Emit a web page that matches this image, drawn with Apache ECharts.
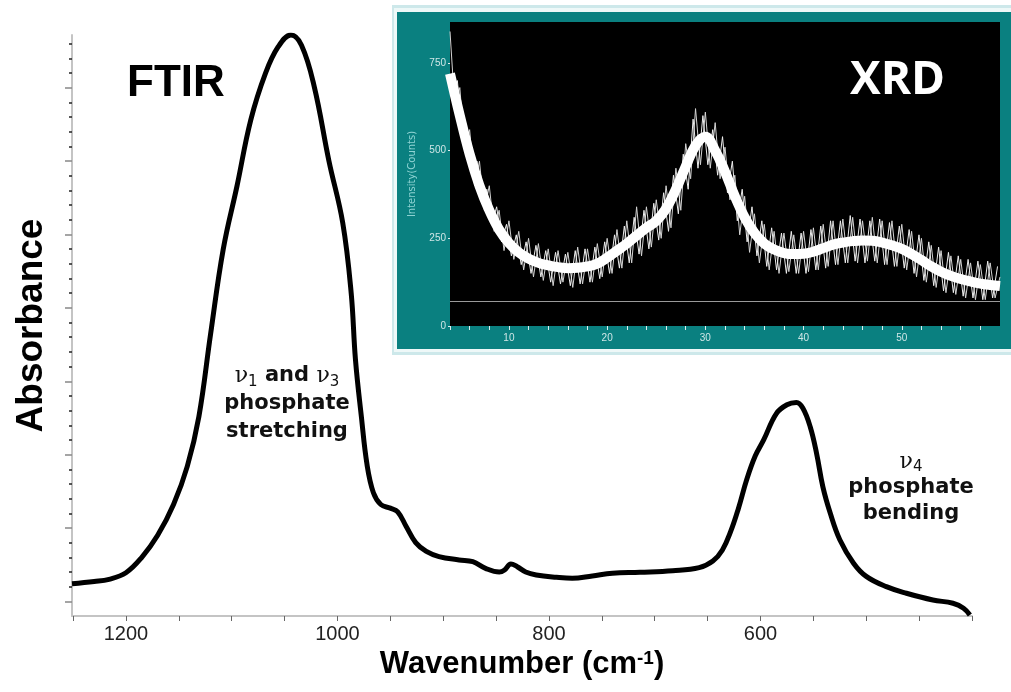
<!DOCTYPE html>
<html>
<head>
<meta charset="utf-8">
<script src="https://cdn.jsdelivr.net/npm/echarts@6/dist/echarts.min.js"></script>
<style>
  html, body { margin: 0; padding: 0; background: #fff; }
  #chart { width: 1011px; height: 692px; }
</style>
</head>
<body>
<div id="chart"></div>
<script>
// FTIR spectrum (wavenumber cm-1, absorbance in arbitrary units)
var ftirWavenumber = [1251, 1230, 1216, 1200, 1185, 1170, 1155, 1142, 1131, 1120, 1108, 1095, 1082, 1068, 1056, 1044,
  1034, 1022, 1008, 995, 987, 983, 977.4, 972, 966, 959, 950, 943, 935, 926, 916, 904, 885, 872, 860, 847, 842, 836,
  830, 822, 812, 793, 778, 759, 740, 714, 683, 658, 645, 636, 628, 621, 613, 605, 597, 585, 575, 566, 560, 553, 547,
  541, 534, 525, 512, 500, 481, 462, 437, 418, 408, 402];
var ftirAbsorbance = [2.2, 2.35, 2.5, 2.95, 4.0, 5.5, 7.6, 10.2, 13.6, 19.2, 25.0, 29.3, 33.8, 37.0, 38.8, 39.6,
  38.9, 36.1, 31.0, 26.8, 22.0, 17.5, 13.6, 10.3, 8.4, 7.6, 7.35, 7.1, 6.1, 5.0, 4.4, 4.05, 3.82, 3.7, 3.25, 3.0, 3.14, 3.55,
  3.36, 3.0, 2.8, 2.64, 2.57, 2.73, 2.91, 2.98, 3.09, 3.3, 3.75, 4.5, 5.8, 7.3, 9.3, 10.9, 12.0, 13.8, 14.4, 14.55, 14.17, 12.9, 11.1,
  8.8, 7.0, 5.2, 3.6, 2.7, 2.0, 1.55, 1.09, 0.87, 0.53, 0.07];

var ftirTicks = [1250, 1200, 1150, 1100, 1050, 1000, 950, 900, 850, 800, 750, 700, 650, 600, 550, 500, 450, 400];
var ftirLabels = [1200, 1000, 800, 600];
var absMajorTicks = [1, 6, 11, 16, 21, 26, 31, 36];
var absMinorTicks = [2, 3, 4, 5, 7, 8, 9, 10, 12, 13, 14, 15, 17, 18, 19, 20, 22, 23, 24, 25, 27, 28, 29, 30, 32, 33, 34, 35, 37, 38, 39];

// XRD inset: centre of the noisy band, one value per degree 2-theta
var xrdAngle = [4, 5, 6, 7, 8, 9, 10, 11, 12, 13, 14, 15, 16, 17, 18, 19, 20, 21, 22, 23, 24, 25, 26, 27, 28, 29, 30, 31,
  32, 33, 34, 35, 36, 37, 38, 39, 40, 41, 42, 43, 44, 45, 46, 47, 48, 49, 50, 51, 52, 53, 54, 55, 56, 57, 58, 59, 60];
var xrdCounts = [720, 600, 490, 400, 330, 275, 237, 210, 192, 180, 173, 168, 165, 166, 170, 178, 195, 215, 235, 258, 280, 300, 335, 390, 455, 515, 540, 500,
  440, 370, 310, 265, 235, 218, 208, 205, 206, 212, 222, 232, 238, 242, 244, 243, 238, 230, 220, 205, 188, 170, 155, 143, 134, 127, 121, 117, 114];
// spike tips of the noise, every half degree
var xrdSpikeAngle = [4, 4.5, 5, 5.5, 6, 6.5, 7, 7.5, 8, 8.5, 9, 9.5, 10, 10.5, 11, 11.5, 12, 12.5, 13, 13.5, 14, 14.5, 15, 15.5,
  16, 16.5, 17, 17.5, 18, 18.5, 19, 19.5, 20, 20.5, 21, 21.5, 22, 22.5, 23, 23.5, 24, 24.5, 25, 25.5, 26, 26.5, 27, 27.5,
  28, 28.5, 29, 29.5, 30, 30.5, 31, 31.5, 32, 32.5, 33, 33.5, 34, 34.5, 35, 35.5, 36, 36.5, 37, 37.5, 38, 38.5, 39, 39.5,
  40, 40.5, 41, 41.5, 42, 42.5, 43, 43.5, 44, 44.5, 45, 45.5, 46, 46.5, 47, 47.5, 48, 48.5, 49, 49.5, 50, 50.5, 51, 51.5,
  52, 52.5, 53, 53.5, 54, 54.5, 55, 55.5, 56, 56.5, 57, 57.5, 58, 58.5, 59, 59.5, 60];
var xrdSpikes = [840, 620, 680, 500, 560, 400, 470, 330, 400, 270, 330, 215, 300, 190, 270, 160, 250, 140, 235, 130, 220, 115, 215, 125,
  210, 110, 225, 120, 220, 125, 235, 140, 250, 150, 275, 165, 300, 180, 340, 200, 340, 225, 360, 250, 400, 280, 450, 330,
  520, 420, 620, 460, 610, 450, 580, 420, 510, 360, 430, 260, 370, 210, 320, 180, 290, 160, 270, 150, 265, 155, 260, 150,
  270, 155, 280, 160, 290, 170, 300, 175, 305, 180, 310, 180, 300, 185, 310, 180, 300, 175, 300, 170, 290, 160, 270, 140,
  250, 125, 230, 110, 215, 95, 200, 90, 190, 80, 180, 75, 175, 75, 180, 80, 140];
// second set of spike tips, on the quarter degrees
var xrdSpikeAngle2 = [4.25, 4.75, 5.25, 5.75, 6.25, 6.75, 7.25, 7.75, 8.25, 8.75, 9.25, 9.75, 10.25, 10.75, 11.25, 11.75,
  12.25, 12.75, 13.25, 13.75, 14.25, 14.75, 15.25, 15.75, 16.25, 16.75, 17.25, 17.75, 18.25, 18.75, 19.25, 19.75,
  20.25, 20.75, 21.25, 21.75, 22.25, 22.75, 23.25, 23.75, 24.25, 24.75, 25.25, 25.75, 26.25, 26.75, 27.25, 27.75,
  28.25, 28.75, 29.25, 29.75, 30.25, 30.75, 31.25, 31.75, 32.25, 32.75, 33.25, 33.75, 34.25, 34.75, 35.25, 35.75,
  36.25, 36.75, 37.25, 37.75, 38.25, 38.75, 39.25, 39.75, 40.25, 40.75, 41.25, 41.75, 42.25, 42.75, 43.25, 43.75,
  44.25, 44.75, 45.25, 45.75, 46.25, 46.75, 47.25, 47.75, 48.25, 48.75, 49.25, 49.75, 50.25, 50.75, 51.25, 51.75,
  52.25, 52.75, 53.25, 53.75, 54.25, 54.75, 55.25, 55.75, 56.25, 56.75, 57.25, 57.75, 58.25, 58.75, 59.25, 59.75];
var xrdSpikes2 = [640, 700, 540, 560, 430, 470, 360, 390, 290, 340, 240, 290, 200, 260, 175, 240,
  150, 230, 140, 215, 125, 210, 120, 205, 115, 215, 120, 220, 125, 225, 135, 240,
  150, 260, 165, 285, 180, 310, 205, 330, 220, 350, 245, 380, 270, 430, 320, 490,
  390, 590, 450, 600, 460, 560, 430, 540, 380, 470, 300, 390, 240, 340, 200, 300,
  170, 280, 160, 265, 150, 270, 150, 265, 150, 275, 160, 285, 165, 300, 175, 300,
  180, 315, 185, 305, 180, 300, 185, 305, 175, 295, 170, 285, 165, 275, 150, 260,
  130, 240, 115, 225, 100, 210, 95, 200, 85, 190, 80, 185, 75, 185, 80, 170];
var xrdBaseline = 72;
var xrdTicks = [4, 6, 8, 10, 12, 14, 16, 18, 20, 22, 24, 26, 28, 30, 32, 34, 36, 38, 40, 42, 44, 46, 48, 50, 52, 54, 56, 58];
var xrdXLabels = [10, 20, 30, 40, 50];
var xrdYLabels = [0, 250, 500, 750];

var myChart = echarts.init(document.getElementById('chart'));

function pairs(xs, ys) {
  return xs.map(function (x, i) { return [x, ys[i]]; });
}

var boldFont = '"Liberation Sans", Arial, sans-serif';
var labelFont = '"DejaVu Sans", Verdana, sans-serif';

var option = {
  backgroundColor: '#fff',
  animation: false,
  graphic: [
    // inset frame
    { type: 'rect', z: -20, shape: { x: 392, y: 5, width: 630, height: 350 }, style: { fill: '#cde8ea' } },
    { type: 'rect', z: -19, shape: { x: 394, y: 8, width: 630, height: 344 }, style: { fill: '#eef8f8' } },
    { type: 'rect', z: -18, shape: { x: 397, y: 12, width: 630, height: 337 }, style: { fill: '#0a8080' } },
    { type: 'text', z: 50, left: 127, top: 62, style: { text: 'FTIR', font: 'bold 44px ' + boldFont, fill: '#000' } },
    { type: 'text', z: 50, left: 850, top: 58, style: { text: 'XRD', font: 'bold 46px "Open Sans", sans-serif', fill: '#fff' } },
    {
      type: 'text', z: 50, x: 287, y: 404,
      style: {
        text: '{nu|ν}{sub|1} and {nu|ν}{sub|3}\nphosphate\nstretching',
        align: 'center', verticalAlign: 'middle',
        font: 'bold 21px ' + labelFont, fill: '#111', lineHeight: 28,
        rich: {
          nu: { font: '22px "DejaVu Serif", serif', fill: '#111', lineHeight: 28 },
          sub: { font: '15px "DejaVu Sans", sans-serif', fill: '#111', verticalAlign: 'bottom', lineHeight: 22 }
        }
      }
    },
    {
      type: 'text', z: 50, x: 911, y: 488,
      style: {
        text: '{nu|ν}{sub|4}\nphosphate\nbending',
        align: 'center', verticalAlign: 'middle',
        font: 'bold 21px ' + labelFont, fill: '#111', lineHeight: 26,
        rich: {
          nu: { font: '22px "DejaVu Serif", serif', fill: '#111', lineHeight: 26 },
          sub: { font: '15px "DejaVu Sans", sans-serif', fill: '#111', verticalAlign: 'bottom', lineHeight: 20 }
        }
      }
    }
  ],
  grid: [
    { left: 72, right: 39, top: 35, bottom: 76 },
    { left: 450, top: 22, width: 550, height: 304, show: true, backgroundColor: '#000', borderWidth: 0 }
  ],
  xAxis: [
    {
      type: 'value', gridIndex: 0, inverse: true, min: 400, max: 1251,
      name: 'Wavenumber (cm{sup|-1})', nameLocation: 'middle', nameGap: 30,
      nameTextStyle: {
        fontFamily: boldFont, fontWeight: 'bold', fontSize: 31, color: '#000', verticalAlign: 'top',
        rich: { sup: { fontFamily: boldFont, fontWeight: 'bold', fontSize: 19, color: '#000', verticalAlign: 'top', padding: [0, 0, 12, 0] } }
      },
      axisLine: { lineStyle: { color: '#c4c4c4', width: 2 } },
      axisTick: { customValues: ftirTicks, length: 5, lineStyle: { color: '#666', width: 1 } },
      axisLabel: {
        customValues: ftirLabels, fontFamily: '"Liberation Sans", sans-serif', fontSize: 20, color: '#222', margin: 8,
        formatter: function (v) { return String(v); }
      },
      splitLine: { show: false }
    },
    {
      type: 'value', gridIndex: 1, min: 4, max: 60,
      axisLine: { show: false },
      axisTick: { customValues: xrdTicks, length: 4, lineStyle: { color: '#dfeeee', width: 1 } },
      axisLabel: { customValues: xrdXLabels, fontFamily: '"Liberation Sans", sans-serif', fontSize: 10, color: '#cfe6e6', margin: 7 },
      splitLine: { show: false }
    }
  ],
  yAxis: [
    {
      type: 'value', gridIndex: 0, position: 'left', min: 0, max: 39.6,
      name: 'Absorbance', nameLocation: 'middle', nameGap: 22,
      nameTextStyle: { fontFamily: boldFont, fontWeight: 'bold', fontSize: 37, color: '#000' },
      axisLine: { show: true, lineStyle: { color: '#c4c4c4', width: 2 } },
      axisTick: { customValues: absMajorTicks, length: 7, lineStyle: { color: '#888', width: 1.5 } },
      axisLabel: { show: false },
      splitLine: { show: false }
    },
    {
      type: 'value', gridIndex: 0, position: 'left', offset: 0, min: 0, max: 39.6,
      axisLine: { show: false },
      axisTick: { customValues: absMinorTicks, length: 3, lineStyle: { color: '#222', width: 1.5 } },
      axisLabel: { show: false },
      splitLine: { show: false }
    },
    {
      type: 'value', gridIndex: 1, min: 0, max: 867,
      name: 'Intensity(Counts)', nameLocation: 'middle', nameGap: 33,
      nameTextStyle: { fontFamily: '"DejaVu Sans", sans-serif', fontSize: 10, color: '#8fd3d3' },
      axisLine: { show: false },
      axisTick: { customValues: xrdYLabels, length: 2, lineStyle: { color: '#dfeeee' } },
      axisLabel: { customValues: xrdYLabels, fontFamily: '"Liberation Sans", sans-serif', fontSize: 10, color: '#cfe6e6', margin: 4 },
      splitLine: { show: false }
    }
  ],
  series: [
    {
      name: 'FTIR', type: 'line', xAxisIndex: 0, yAxisIndex: 0,
      data: pairs(ftirWavenumber, ftirAbsorbance), showSymbol: false, smooth: 0.4,
      lineStyle: { color: '#000', width: 5 }, z: 5
    },
    {
      name: 'XRD noise', type: 'line', xAxisIndex: 1, yAxisIndex: 2,
      data: pairs(xrdSpikeAngle, xrdSpikes), showSymbol: false,
      lineStyle: { color: '#d4d4d4', width: 1 }
    },
    {
      name: 'XRD noise 2', type: 'line', xAxisIndex: 1, yAxisIndex: 2,
      data: pairs(xrdSpikeAngle2, xrdSpikes2), showSymbol: false,
      lineStyle: { color: '#eeeeee', width: 1 }
    },
    {
      name: 'XRD', type: 'line', xAxisIndex: 1, yAxisIndex: 2,
      data: pairs(xrdAngle, xrdCounts), showSymbol: false, smooth: 0.4,
      lineStyle: { color: '#fff', width: 10 },
      markLine: {
        silent: true, symbol: 'none', label: { show: false },
        lineStyle: { color: '#9a9a9a', width: 1, type: 'solid' },
        data: [{ yAxis: xrdBaseline }]
      }
    }
  ]
};

myChart.setOption(option);
</script>
</body>
</html>
